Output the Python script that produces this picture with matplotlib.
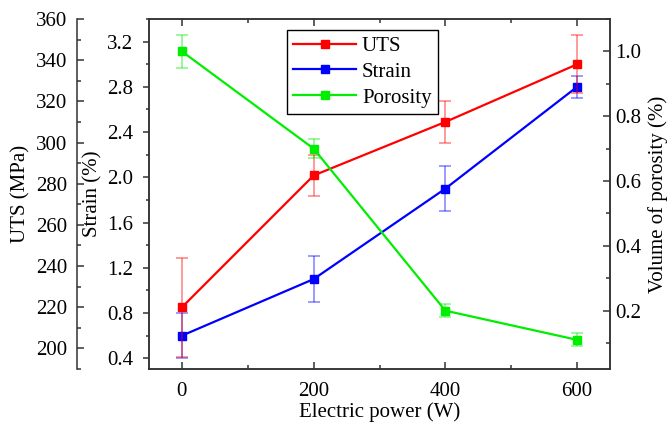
import matplotlib
matplotlib.use("Agg")
import matplotlib.pyplot as plt
from matplotlib.ticker import MultipleLocator

# Data
power = [0, 200, 400, 600]
uts = [220, 284, 310, 338]
uts_err = [24, 10, 10, 14]
strain = [0.6, 1.1, 1.9, 2.8]
strain_err = [0.2, 0.2, 0.2, 0.1]
porosity = [1.0, 0.70, 0.20, 0.11]
porosity_err = [0.05, 0.03, 0.02, 0.02]

plt.rcParams["font.family"] = ["Liberation Serif", "DejaVu Serif"]
plt.rcParams["font.size"] = 15
plt.rcParams["mathtext.default"] = "regular"

W, H = 671, 423
fig = plt.figure(figsize=(W / 100, H / 100), dpi=100)
L, R, T, B = 149, 610, 19, 369
ax = fig.add_axes([L / W, (H - B) / H, (R - L) / W, (B - T) / H])
ax_uts = ax.twinx()
ax_por = ax.twinx()

spine_col = "#333333"
lw_sp = 1.1

def series(a, y, e, color, label):
    a.errorbar(power, y, yerr=e, fmt="none", ecolor=color, alpha=0.5,
               elinewidth=1.1, capsize=4.5, capthick=1.1, zorder=2)
    line, = a.plot(power, y, color=color, lw=1.6, marker="s", ms=6,
                   label=label, zorder=3)
    return line

h_strain = series(ax, strain, strain_err, "#0000FF", "Strain")
h_uts = series(ax_uts, uts, uts_err, "#FF0000", "UTS")
h_por = series(ax_por, porosity, porosity_err, "#00EE00", "Porosity")

# x axis
ax.set_xlim(-50, 650)
ax.set_xticks(power)
ax.xaxis.set_minor_locator(MultipleLocator(100))
ax.tick_params(axis="x", which="both", direction="in", top=True,
               colors=spine_col, labelcolor="black", width=lw_sp, pad=9)
ax.tick_params(axis="x", which="major", length=5)
ax.tick_params(axis="x", which="minor", length=3)
ax.set_xlabel("Electric power (W)", labelpad=1)

# Strain axis (main left spine)
ax.set_ylim(0.305, 3.40)
ax.yaxis.set_major_locator(MultipleLocator(0.4))
ax.yaxis.set_minor_locator(MultipleLocator(0.2))
ax.yaxis.set_major_formatter(plt.FormatStrFormatter("%.1f"))
ax.tick_params(axis="y", which="both", direction="out", colors=spine_col,
               labelcolor="black", width=lw_sp, pad=7.5)
ax.tick_params(axis="y", which="major", length=4)
ax.tick_params(axis="y", which="minor", length=2.5)
ax.set_ylabel("Strain (%)")
ax.yaxis.set_label_coords((102 - L) / (R - L), 0.5)

# UTS axis (offset left spine)
ax_uts.set_ylim(190, 360)
ax_uts.yaxis.set_ticks_position("left")
ax_uts.yaxis.set_label_position("left")
ax_uts.spines["left"].set_visible(True)
ax_uts.spines["left"].set_position(("outward", (L - 77) * 0.72))
ax_uts.spines["right"].set_visible(False)
ax_uts.spines["top"].set_visible(False)
ax_uts.spines["bottom"].set_visible(False)
ax_uts.yaxis.set_major_locator(MultipleLocator(20))
ax_uts.yaxis.set_minor_locator(MultipleLocator(10))
ax_uts.tick_params(axis="y", which="both", direction="in", colors=spine_col,
                   labelcolor="black", width=lw_sp, pad=7)
ax_uts.tick_params(axis="y", which="major", length=5)
ax_uts.tick_params(axis="y", which="minor", length=3)
ax_uts.set_ylabel("UTS (MPa)")
ax_uts.yaxis.set_label_coords((30 - L) / (R - L), 0.5)

# Porosity axis (right)
ax_por.set_ylim(0.02, 1.10)
ax_por.yaxis.set_major_locator(MultipleLocator(0.2))
ax_por.yaxis.set_minor_locator(MultipleLocator(0.1))
ax_por.yaxis.set_major_formatter(plt.FormatStrFormatter("%.1f"))
ax_por.tick_params(axis="y", which="both", direction="in", colors=spine_col,
                   labelcolor="black", width=lw_sp, pad=4)
ax_por.tick_params(axis="y", which="major", length=5)
ax_por.tick_params(axis="y", which="minor", length=3)
ax_por.set_ylabel("Volume of porosity (%)")
ax_por.yaxis.set_label_coords((648 - L) / (R - L), 0.5)

for a in (ax, ax_uts, ax_por):
    for s in a.spines.values():
        s.set_color(spine_col)
        s.set_linewidth(lw_sp)

leg = ax_por.legend([h_uts, h_strain, h_por], ["UTS", "Strain", "Porosity"],
                    loc="upper left",
                    bbox_to_anchor=((287 - L) / (R - L), (B - 30) / (B - T)),
                    borderaxespad=0, fancybox=False, framealpha=1,
                    edgecolor="black", handlelength=3.0, handletextpad=0.3,
                    labelspacing=0.3, borderpad=0.3)
leg.get_frame().set_linewidth(1.0)

fig.savefig("out.png", dpi=100)
